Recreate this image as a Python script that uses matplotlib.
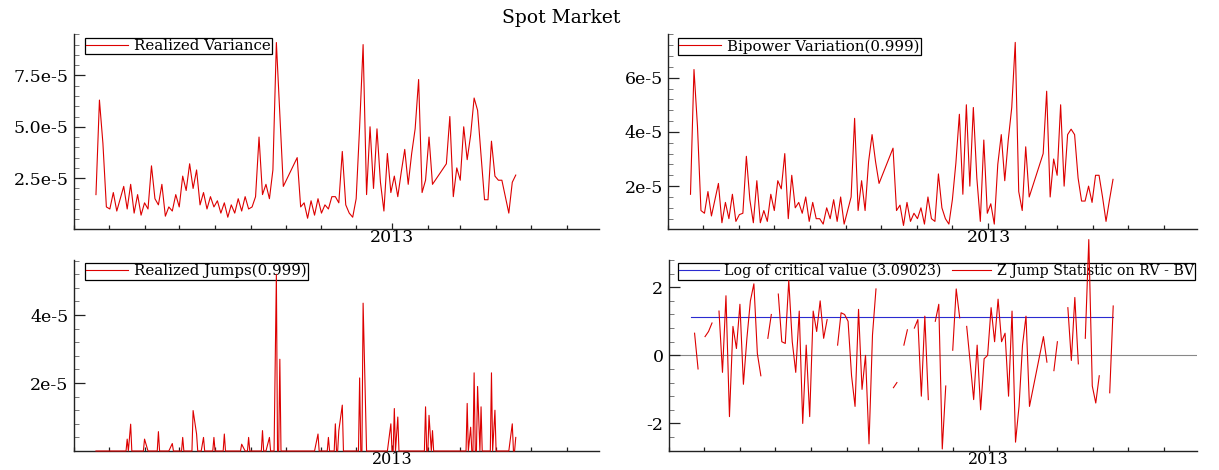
import numpy as np
import pandas as pd
import matplotlib
matplotlib.use("Agg")
import matplotlib.pyplot as plt
import matplotlib.dates as mdates
from matplotlib.ticker import FixedLocator, FixedFormatter, MultipleLocator

nan = np.nan

# observaciones cada 3 dias; NaN en rv = dia sin sesion
fechas = pd.date_range("2012-04-20", periods=122, freq="3D")

# Realized Variance (x1e-5)
rv = [1.7, 6.3, 4.2, 1.1, 1.0, 1.8, 0.9, 1.5, 2.1, 1.0,
      2.2, 0.8, 1.7, 0.7, 1.3, 1.0, 3.1, 1.5, 1.2, 2.2,
      0.65, 1.1, 0.9, 1.7, 1.1, 2.6, 1.9, 3.2, 2.0, 2.9,
      1.2, 1.8, 1.0, 1.6, 1.1, 1.4, 0.8, 1.3, 0.6, 1.2,
      0.8, 1.5, 0.9, 1.6, 1.0, 1.1, 1.6, 4.5, 1.7, 2.2,
      1.5, 2.9, 9.1, 5.6, 2.1, nan, nan, nan, 3.5, 1.1,
      1.3, 0.55, 1.4, 0.7, 1.5, 0.8, 1.2, 1.0, 1.6, 1.6,
      1.3, 3.8, 1.2, 0.8, 0.6, 1.5, 5.0, 9.0, 1.7, 5.0,
      2.0, 4.9, 2.3, 0.9, 3.7, 1.8, 2.6, 1.6, 2.8, 3.9,
      2.2, 3.7, 4.9, 7.3, 1.8, 2.4, 4.5, 2.2, nan, nan,
      nan, 3.2, 5.5, 1.6, 3.0, 2.4, 5.0, 3.4, 4.6, 6.4,
      5.8, 3.6, 1.45, 1.45, 4.3, 2.6, 2.4, 2.4, 1.6, 0.8,
      2.3, 2.65]

# Bipower Variation (x1e-5)
bv = [1.7, 6.3, 4.2, 1.1, 1.0, 1.8, 0.9, 1.5, 2.1, 0.65,
      1.4, 0.8, 1.7, 0.7, 0.95, 1.0, 3.1, 1.5, 0.65, 2.2,
      0.65, 1.1, 0.7, 1.7, 1.1, 2.2, 1.9, 3.2, 0.8, 2.4,
      1.2, 1.4, 1.0, 1.6, 0.7, 1.4, 0.8, 0.8, 0.6, 1.2,
      0.8, 1.5, 0.7, 1.6, 0.6, 1.1, 1.6, 4.5, 1.1, 2.2,
      1.1, 2.9, 3.9, 2.9, 2.1, nan, nan, nan, 3.4, 1.1,
      1.3, 0.55, 1.4, 0.7, 1.0, 0.8, 1.2, 0.6, 1.6, 0.8,
      0.7, 2.45, 1.2, 0.8, 0.6, 1.5, 2.85, 4.65, 1.7, 5.0,
      2.0, 4.9, 2.3, 0.7, 3.7, 1.0, 1.35, 0.6, 2.8, 3.9,
      2.2, 3.7, 4.9, 7.3, 1.8, 1.1, 3.45, 1.6, nan, nan,
      nan, 3.2, 5.5, 1.6, 3.0, 2.4, 5.0, 2.0, 3.9, 4.1,
      3.9, 2.3, 1.45, 1.45, 2.0, 1.4, 2.4, 2.4, 1.6, 0.7,
      1.5, 2.25]

# Realized Jumps (x1e-5), cero en los dias sin salto
saltos = [0, 0, 0, 0, 0, 0, 0, 0, 0, 0.35,
          0.79, 0, 0, 0, 0.35, 0, 0, 0, 0.57, 0,
          0, 0, 0.22, 0, 0, 0.4, 0, 0, 1.19, 0.5,
          0, 0.4, 0, 0, 0.4, 0, 0, 0.5, 0, 0,
          0, 0, 0.2, 0, 0.4, 0, 0, 0, 0.6, 0,
          0.4, 0, 5.2, 2.7, 0, nan, nan, nan, 0, 0,
          0, 0, 0, 0, 0.5, 0, 0, 0.4, 0, 0.8,
          0.6, 1.35, 0, 0, 0, 0, 2.15, 4.35, 0, 0,
          0, 0, 0, 0, 0, 0.8, 1.25, 1.0, 0, 0,
          0, 0, 0, 0, 0, 1.3, 1.05, 0.6, nan, nan,
          nan, 0, 0, 0, 0, 0, 0, 1.4, 0.7, 2.3,
          1.9, 1.3, 0, 0, 2.3, 1.2, 0, 0, 0, 0,
          0.8, 0.4]

# log del estadistico Z (RV - BV); NaN donde no esta definido
z_salto = [nan, 0.65, -0.4, nan, 0.55, 0.7, 0.95, nan, 1.3, -0.5,
           1.75, -1.8, 0.85, 0.2, 1.5, -0.85, 0.5, 1.6, 2.1, 0.05,
           -0.6, nan, 0.5, 1.2, nan, 1.8, 0.4, 0.35, 2.2, 0.4,
           -0.5, 1.3, -2.0, 0.3, -1.8, 1.3, 0.7, 1.6, 0.5, 1.05,
           nan, nan, 0.3, 1.25, 1.2, 1.0, -0.6, -1.5, 1.35, -1.0,
           0.0, -2.6, 0.6, 1.95, nan, nan, nan, nan, -0.95, -0.8,
           nan, 0.3, 0.75, nan, 0.8, 1.05, -1.2, 1.15, -1.3, nan,
           1.0, 1.5, -2.75, -0.9, nan, 0.15, 1.95, 1.1, nan, 0.85,
           -0.2, -1.3, 0.3, -1.6, -0.1, 0.0, 1.4, 0.4, 1.65, 0.4,
           0.65, -1.2, 1.3, -2.55, -1.5, 0.3, 1.15, -1.5, nan, nan,
           nan, 0.55, -0.2, nan, -0.45, 0.4, nan, nan, 1.4, -0.15,
           1.7, -0.25, nan, 0.5, 3.4, -0.9, -1.4, -0.6, nan, nan,
           -1.1, 1.45]

valor_critico = 3.09023

df = pd.DataFrame({"rv": rv, "bv": bv, "j": saltos, "z": z_salto}, index=fechas)
df = df.dropna(subset=["rv"])
df[["rv", "bv", "j"]] *= 1e-5

# los saltos se dibujan dia a dia (habiles): sin salto registrado = 0
dias = pd.bdate_range(df.index[0], df.index[-1]).union(df.index)
j_diario = df["j"].reindex(dias, fill_value=0.0)

ROJO = "#dd0000"
AZUL = "#2b2bd0"
LW = 0.8

plt.rcParams["font.family"] = ["DejaVu Serif"]
fig = plt.figure(figsize=(12.19, 4.70), dpi=100)


def estilo(ax, mayores, etiquetas, menor, ylim, xlab=12.5):
    ax.set_xlim(pd.Timestamp("2012-04-01"), pd.Timestamp("2013-06-29"))
    ax.set_ylim(*ylim)
    for s in ["top", "right"]:
        ax.spines[s].set_visible(False)
    for s in ["left", "bottom"]:
        ax.spines[s].set_color("#222222")
        ax.spines[s].set_linewidth(1.0)
    ax.xaxis.set_major_locator(FixedLocator([mdates.date2num(pd.Timestamp("2013-01-01"))]))
    ax.xaxis.set_major_formatter(FixedFormatter(["2013"]))
    ax.xaxis.set_minor_locator(mdates.MonthLocator())
    ax.yaxis.set_major_locator(FixedLocator(mayores))
    ax.yaxis.set_major_formatter(FixedFormatter(etiquetas))
    ax.yaxis.set_minor_locator(MultipleLocator(menor))
    ax.tick_params(axis="y", which="major", direction="in", length=8, width=0.9,
                   labelsize=12.5, pad=4, color="#222222")
    ax.tick_params(axis="y", which="minor", direction="in", length=3.6, width=0.7, color="#777777")
    ax.tick_params(axis="x", which="major", direction="in", length=4.3, width=0.9,
                   labelsize=xlab, pad=0, color="#222222")
    ax.tick_params(axis="x", which="minor", direction="in", length=2.9, width=0.9, color="#222222")


def leyenda(ax, pos, ncol=1, tam=10.8):
    leg = ax.legend(loc="upper left", bbox_to_anchor=pos, borderaxespad=0, fontsize=tam,
                    ncol=ncol, fancybox=False, edgecolor="black", framealpha=1,
                    borderpad=0.08, handlelength=2.8, handletextpad=0.4, columnspacing=0.7)
    leg.get_frame().set_linewidth(0.9)
    leg.set_zorder(1)


# Realized Variance
ax1 = fig.add_axes([0.0607, 0.5138, 0.4307, 0.4132])
ax1.plot(df.index, df["rv"], color=ROJO, lw=LW, zorder=3, label="Realized Variance")
estilo(ax1, [2.5e-5, 5e-5, 7.5e-5], ["2.5e-5", "5.0e-5", "7.5e-5"], 0.5e-5, (0.05e-5, 9.5e-5))
leyenda(ax1, (0.021, 0.981))

# Bipower Variation
ax2 = fig.add_axes([0.5483, 0.5128, 0.4335, 0.4143])
ax2.plot(df.index, df["bv"], color=ROJO, lw=LW, zorder=3, label="Bipower Variation(0.999)")
estilo(ax2, [2e-5, 4e-5, 6e-5], ["2e-5", "4e-5", "6e-5"], 0.4e-5, (0.42e-5, 7.6e-5))
leyenda(ax2, (0.018, 0.981))

# Realized Jumps
ax3 = fig.add_axes([0.0607, 0.0404, 0.4307, 0.4064])
ax3.plot(j_diario.index, j_diario.values, color=ROJO, lw=LW, zorder=3, clip_on=False,
         label="Realized Jumps(0.999)")
estilo(ax3, [2e-5, 4e-5], ["2e-5", "4e-5"], 0.4e-5, (0, 5.62e-5), xlab=11.5)
leyenda(ax3, (0.021, 0.985))

# Z jump statistic
ax4 = fig.add_axes([0.5488, 0.0404, 0.4331, 0.4064])
nivel = np.log(valor_critico)
ax4.axhline(0, color="#888888", lw=0.8, zorder=1.5)
ax4.plot([df.index[0], df.index[-1]], [nivel, nivel], color=AZUL, lw=LW, zorder=3,
         label="Log of critical value (3.09023)")
ax4.plot(df.index, df["z"], color=ROJO, lw=LW, zorder=3, clip_on=False,
         label="Z Jump Statistic on RV - BV")
estilo(ax4, [-2, 0, 2], ["-2", "0", "2"], 0.4, (-2.81, 2.8), xlab=11.5)
leyenda(ax4, (0.017, 0.985), ncol=2, tam=10.2)

fig.text(0.46, 0.962, "Spot Market", ha="center", va="center", fontsize=13.5)

fig.savefig("out.png", dpi=100)
